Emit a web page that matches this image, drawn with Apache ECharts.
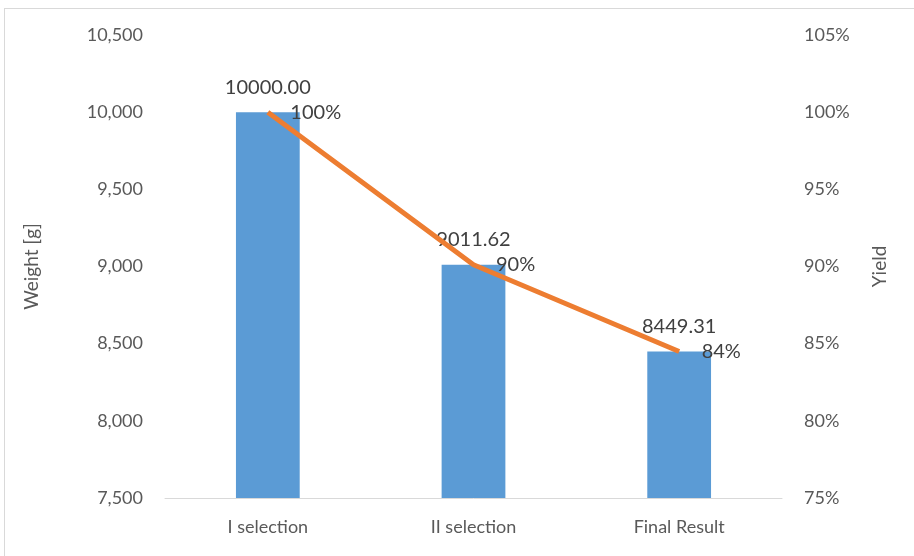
<!DOCTYPE html>
<html>
<head>
<meta charset="utf-8">
<script src="https://cdn.jsdelivr.net/npm/echarts@6/dist/echarts.min.js"></script>
<style>
  html, body { margin: 0; padding: 0; background: #fff; }
  #frame { position: absolute; left: 4px; top: 8px; width: 1000px; height: 700px; border: 1px solid #d9d9d9; }
  #main { position: absolute; left: 0; top: 0; width: 914px; height: 556px; }
</style>
</head>
<body>
<div id="frame"></div>
<div id="main"></div>
<script>
const categories = ['I selection', 'II selection', 'Final Result']
const weights = [10000.00, 9011.62, 8449.31]
const yields = [100, 90.1162, 84.4931]

const chart = echarts.init(document.getElementById('main'))
const font = 'Lato, "Open Sans", sans-serif'
const grey = '#595959'

const option = {
  textStyle: { fontFamily: font },
  grid: { left: 165, right: 132, top: 35, bottom: 58 },
  xAxis: {
    type: 'category',
    data: categories,
    axisLine: { lineStyle: { color: '#d9d9d9', width: 1 } },
    axisTick: { show: false },
    axisLabel: { color: grey, fontSize: 18, margin: 20, fontFamily: font }
  },
  yAxis: [
    {
      type: 'value',
      min: 7500,
      max: 10500,
      interval: 500,
      name: 'Weight [g]',
      nameLocation: 'middle',
      nameGap: 124,
      nameTextStyle: { color: grey, fontSize: 19, fontFamily: font },
      splitLine: { show: false },
      axisLine: { show: false },
      axisTick: { show: false },
      axisLabel: {
        color: grey, fontSize: 18, margin: 22, fontFamily: font,
        formatter: v => v.toLocaleString('en-US')
      }
    },
    {
      type: 'value',
      min: 75,
      max: 105,
      interval: 5,
      name: 'Yield',
      nameLocation: 'middle',
      nameGap: 88,
      nameRotate: 90,
      nameTextStyle: { color: grey, fontSize: 19, fontFamily: font },
      splitLine: { show: false },
      axisLine: { show: false },
      axisTick: { show: false },
      axisLabel: {
        color: grey, fontSize: 18, margin: 22, fontFamily: font,
        formatter: v => v + '%'
      }
    }
  ],
  series: [
    {
      type: 'bar',
      data: weights,
      barWidth: '31%',
      itemStyle: { color: '#5b9bd5' },
      label: {
        show: true,
        position: 'top',
        distance: 15,
        color: '#404040',
        fontSize: 20,
        fontFamily: font,
        formatter: p => p.value.toFixed(2)
      }
    },
    {
      type: 'line',
      yAxisIndex: 1,
      data: yields,
      symbol: 'circle',
      symbolSize: 1,
      showSymbol: true,
      itemStyle: { color: 'rgba(0,0,0,0)' },
      lineStyle: { color: '#ed7d31', width: 5 },
      z: 5,
      label: {
        show: true,
        position: 'right',
        distance: 22,
        color: '#404040',
        fontSize: 20,
        fontFamily: font,
        formatter: p => Math.round(p.value) + '%'
      }
    }
  ]
}
chart.setOption(option)
</script>
</body>
</html>
